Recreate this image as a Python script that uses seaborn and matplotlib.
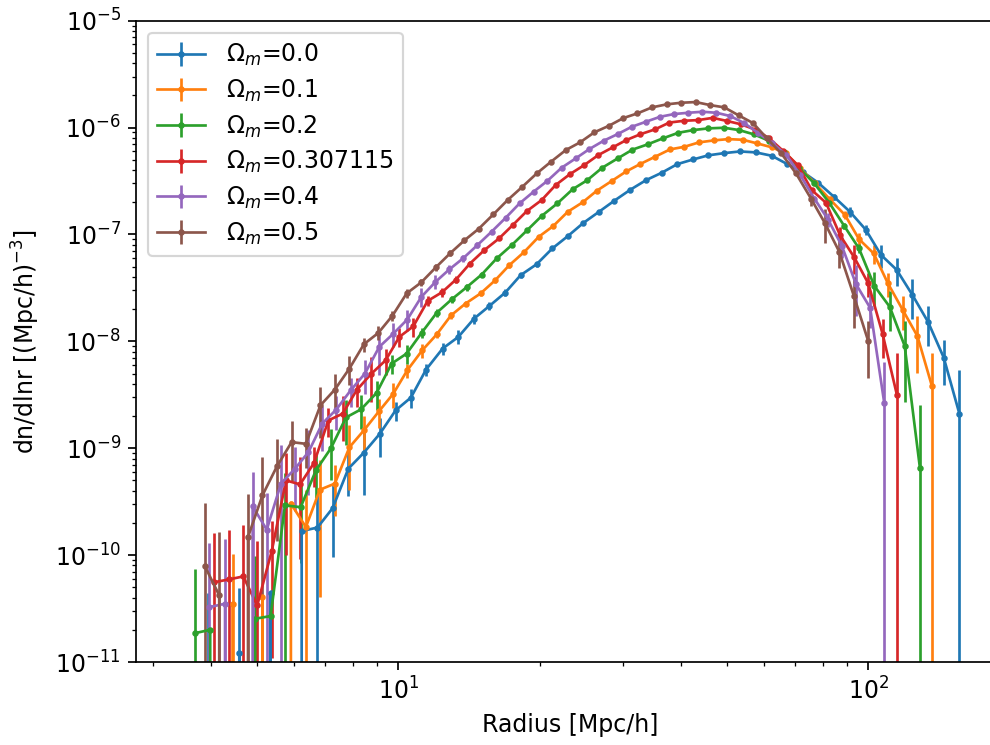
import numpy as np
import matplotlib
matplotlib.use("Agg")
import matplotlib.pyplot as plt
import seaborn as sns

labels = [r"$\Omega_m$=0.0", r"$\Omega_m$=0.1", r"$\Omega_m$=0.2",
          r"$\Omega_m$=0.307115", r"$\Omega_m$=0.4", r"$\Omega_m$=0.5"]

# ---- Omega_m = 0.0 ----
x0 = [3.94, 4.26, 4.59, 4.95, 5.35, 5.77, 6.23, 6.73, 7.25, 7.83, 8.45, 9.14, 9.87,
      10.64, 11.46, 12.43, 13.42, 14.49, 15.62, 16.89, 18.21, 19.70, 21.27, 22.94,
      24.75, 26.73, 28.82, 31.16, 33.65, 36.35, 39.23, 42.44, 45.67, 49.39, 53.33,
      57.61, 62.31, 67.26, 72.53, 78.27, 84.53, 91.41, 98.74, 106.4, 114.9, 124.1,
      134.0, 144.7, 156.2]
y0 = [2e-12, 0, 1.22e-11, 0, 4.38e-11, 0, 1.68e-10, 1.81e-10, 2.75e-10, 6.44e-10,
      9.1e-10, 1.37e-9, 2.26e-9, 2.98e-9, 5.45e-9, 8.57e-9, 1.10e-8, 1.63e-8, 2.14e-8,
      2.86e-8, 4.16e-8, 5.27e-8, 7.40e-8, 9.64e-8, 1.28e-7, 1.63e-7, 2.07e-7, 2.62e-7,
      3.22e-7, 3.78e-7, 4.55e-7, 5.04e-7, 5.50e-7, 5.77e-7, 5.98e-7, 5.86e-7, 5.45e-7,
      4.55e-7, 3.85e-7, 3.04e-7, 2.25e-7, 1.63e-7, 1.11e-7, 6.44e-8, 4.67e-8, 2.72e-8,
      1.52e-8, 7.05e-9, 2.11e-9]
r0 = [20, 0, 3.0, 0, 0.05, 0, 0.05, 1.0, 0.65, 0.45, 0.6, 0.4, 0.2, 0.2, 0.13, 0.13,
      0.15, 0.1, 0.08, 0.08, 0.05, 0.05, 0.03, 0.03, 0.02, 0.02, 0.02, 0.02, 0.02, 0.02,
      0.02, 0.02, 0.02, 0.02, 0.02, 0.02, 0.02, 0.02, 0.03, 0.04, 0.06, 0.11, 0.11, 0.25,
      0.3, 0.4, 0.4, 0.45, 1.58]

# ---- Omega_m = 0.1 ----
x1 = [4.44, 4.79, 5.14, 5.52, 5.91, 6.36, 6.81, 7.33, 7.87, 8.45, 9.10, 9.76, 10.45,
      11.25, 12.07, 12.95, 13.91, 14.97, 16.08, 17.23, 18.54, 19.90, 21.37, 22.94,
      24.68, 26.43, 28.44, 30.55, 32.68, 35.17, 37.86, 40.60, 43.63, 46.96, 50.37,
      54.06, 58.05, 62.39, 66.84, 71.67, 77.02, 82.87, 89.21, 95.55, 102.7, 110.1,
      118.5, 127.2, 136.6]
y1 = [3.51e-11, 0, 4.05e-11, 0, 3.03e-10, 1.83e-10, 4.09e-10, 4.67e-10, 1.02e-9,
      1.47e-9, 2.22e-9, 3.24e-9, 5.36e-9, 8.26e-9, 1.16e-8, 1.75e-8, 2.26e-8, 2.81e-8,
      3.73e-8, 5.16e-8, 6.87e-8, 9.51e-8, 1.20e-7, 1.63e-7, 2.00e-7, 2.56e-7, 3.16e-7,
      3.89e-7, 4.55e-7, 5.33e-7, 6.25e-7, 6.61e-7, 7.27e-7, 7.59e-7, 7.80e-7, 7.69e-7,
      7.11e-7, 6.53e-7, 5.73e-7, 4.15e-7, 3.00e-7, 2.13e-7, 1.52e-7, 9.04e-8, 6.64e-8,
      3.48e-8, 1.95e-8, 1.12e-8, 3.80e-9]
r1 = [1.94, 0, 0.05, 0, 0.05, 1.2, 0.9, 0.5, 0.6, 0.35, 0.3, 0.27, 0.15, 0.15, 0.08,
      0.08, 0.06, 0.06, 0.05, 0.05, 0.04, 0.04, 0.03, 0.03, 0.02, 0.02, 0.02, 0.02, 0.02,
      0.02, 0.02, 0.02, 0.02, 0.02, 0.02, 0.02, 0.02, 0.02, 0.02, 0.03, 0.04, 0.05, 0.08,
      0.15, 0.2, 0.25, 0.35, 0.55, 1.03]

# ---- Omega_m = 0.2 ----
x2 = [3.69, 3.98, 4.28, 4.61, 4.96, 5.35, 5.74, 6.20, 6.68, 7.19, 7.74, 8.33, 8.99,
      9.68, 10.42, 11.21, 12.07, 12.99, 13.98, 15.05, 16.19, 17.43, 18.82, 20.19,
      21.79, 23.50, 25.24, 27.16, 29.30, 31.50, 33.94, 36.53, 39.42, 42.44, 45.67,
      49.32, 53.07, 57.12, 61.49, 66.16, 71.31, 76.77, 82.60, 88.89, 95.55, 103.0,
      111.1, 119.5, 128.8]
y2 = [1.86e-11, 2.00e-11, 0, 0, 2.54e-11, 2.69e-11, 2.92e-10, 2.81e-10, 6.21e-10,
      1.0e-9, 1.94e-9, 2.31e-9, 3.29e-9, 6.19e-9, 7.69e-9, 1.20e-8, 1.85e-8, 2.47e-8,
      3.21e-8, 4.22e-8, 5.96e-8, 7.94e-8, 1.10e-7, 1.49e-7, 1.95e-7, 2.65e-7, 3.22e-7,
      4.21e-7, 5.15e-7, 6.22e-7, 6.97e-7, 7.92e-7, 8.94e-7, 9.48e-7, 9.83e-7, 9.96e-7,
      9.48e-7, 8.64e-7, 7.52e-7, 5.90e-7, 4.18e-7, 3.00e-7, 1.98e-7, 1.20e-7, 7.40e-8,
      3.30e-8, 2.10e-8, 9.06e-9, 6.49e-10]
r2 = [3.0, 0.05, 0, 0, 2.9, 0.05, 1.0, 0.7, 0.45, 0.5, 0.45, 0.35, 0.3, 0.2, 0.2, 0.1,
      0.08, 0.07, 0.07, 0.05, 0.05, 0.04, 0.04, 0.03, 0.03, 0.02, 0.02, 0.02, 0.02, 0.02,
      0.02, 0.02, 0.02, 0.02, 0.02, 0.02, 0.02, 0.02, 0.02, 0.02, 0.03, 0.04, 0.05, 0.06,
      0.1, 0.35, 0.4, 0.7, 2.9]

# ---- Omega_m = 0.307115 ----
x3 = [4.06, 4.36, 4.68, 5.01, 5.38, 5.77, 6.18, 6.62, 7.10, 7.62, 8.15, 8.74, 9.40,
      10.05, 10.76, 11.55, 12.39, 13.27, 14.21, 15.24, 16.38, 17.51, 18.76, 20.19,
      21.62, 23.19, 24.87, 26.64, 28.59, 30.55, 32.73, 35.17, 37.73, 40.54, 43.47,
      46.66, 49.97, 53.58, 57.50, 61.56, 65.94, 70.76, 75.80, 81.28, 87.07, 93.38,
      100.0, 107.3, 115.1]
y3 = [5.58e-11, 5.92e-11, 6.32e-11, 3.38e-11, 1.09e-10, 5.0e-10, 4.59e-10, 7.30e-10,
      1.82e-9, 2.11e-9, 3.48e-9, 4.92e-9, 6.65e-9, 1.10e-8, 1.38e-8, 2.39e-8, 2.88e-8,
      3.79e-8, 5.35e-8, 7.13e-8, 9.17e-8, 1.22e-7, 1.65e-7, 2.10e-7, 2.90e-7, 3.67e-7,
      4.46e-7, 5.53e-7, 6.53e-7, 7.64e-7, 8.66e-7, 9.62e-7, 1.114e-6, 1.158e-6,
      1.175e-6, 1.233e-6, 1.155e-6, 1.074e-6, 9.58e-7, 7.92e-7, 6.03e-7, 4.46e-7,
      2.60e-7, 1.98e-7, 9.85e-8, 6.09e-8, 3.48e-8, 1.165e-8, 3.13e-9]
r3 = [1.9, 1.9, 2.0, 3.0, 0.9, 0.8, 0.8, 0.4, 0.3, 0.45, 0.3, 0.45, 0.27, 0.2, 0.2,
      0.1, 0.1, 0.07, 0.05, 0.05, 0.04, 0.04, 0.03, 0.03, 0.02, 0.02, 0.02, 0.02, 0.02,
      0.02, 0.02, 0.02, 0.02, 0.02, 0.02, 0.02, 0.02, 0.02, 0.02, 0.02, 0.03, 0.03, 0.05,
      0.06, 0.2, 0.3, 0.25, 0.4, 1.5]

# ---- Omega_m = 0.4 ----
x4 = [3.96, 4.28, 4.57, 4.90, 5.25, 5.63, 6.03, 6.44, 6.89, 7.38, 7.92, 8.49, 9.11,
      9.76, 10.45, 11.20, 12.00, 12.84, 13.75, 14.73, 15.79, 16.92, 18.11, 19.40,
      20.77, 22.26, 23.85, 25.51, 27.33, 29.29, 31.38, 33.62, 36.06, 38.60, 41.39,
      44.38, 47.53, 50.87, 54.45, 58.34, 62.52, 66.96, 71.67, 76.77, 82.11, 87.90,
      94.15, 100.9, 108.1]
y4 = [3.26e-11, 3.51e-11, 0, 2.86e-10, 1.73e-10, 4.67e-10, 6.44e-10, 9.2e-10, 1.70e-9,
      2.30e-9, 3.48e-9, 4.99e-9, 8.87e-9, 1.18e-8, 1.60e-8, 2.61e-8, 3.60e-8, 4.71e-8,
      6.00e-8, 7.94e-8, 1.06e-7, 1.43e-7, 1.95e-7, 2.51e-7, 3.18e-7, 4.21e-7, 5.15e-7,
      6.30e-7, 7.52e-7, 8.69e-7, 1.017e-6, 1.133e-6, 1.262e-6, 1.338e-6, 1.376e-6,
      1.406e-6, 1.376e-6, 1.281e-6, 1.102e-6, 8.88e-7, 7.16e-7, 5.53e-7, 3.59e-7,
      2.17e-7, 1.38e-7, 7.77e-8, 3.43e-8, 2.06e-8, 2.67e-9]
r4 = [3.0, 3.0, 0, 1.1, 1.2, 1.3, 0.6, 0.6, 0.45, 0.35, 0.3, 0.35, 0.45, 0.25, 0.22,
      0.2, 0.15, 0.1, 0.08, 0.06, 0.05, 0.04, 0.04, 0.03, 0.03, 0.02, 0.02, 0.02, 0.02,
      0.02, 0.02, 0.02, 0.02, 0.02, 0.02, 0.02, 0.02, 0.02, 0.02, 0.02, 0.02, 0.03, 0.04,
      0.06, 0.15, 0.23, 0.5, 0.35, 1.4]

# ---- Omega_m = 0.5 ----
x5 = [3.88, 4.16, 4.47, 4.79, 5.14, 5.52, 5.93, 6.36, 6.83, 7.33, 7.87, 8.45, 9.07,
      9.72, 10.42, 11.19, 12.02, 12.90, 13.82, 14.83, 15.93, 17.09, 18.36, 19.70,
      21.13, 22.72, 24.36, 26.12, 28.07, 30.11, 32.28, 34.66, 37.24, 39.95, 42.94,
      46.04, 49.39, 53.00, 56.85, 60.88, 65.30, 70.19, 75.51, 80.90, 86.77, 93.24,
      100.0]
y5 = [7.83e-11, 4.2e-11, 0, 1.48e-10, 3.62e-10, 6.78e-10, 1.14e-9, 1.10e-9, 2.52e-9,
      3.54e-9, 5.56e-9, 9.40e-9, 1.20e-8, 1.74e-8, 2.81e-8, 3.56e-8, 4.92e-8, 6.68e-8,
      8.79e-8, 1.13e-7, 1.54e-7, 2.10e-7, 2.79e-7, 3.72e-7, 4.79e-7, 6.16e-7, 7.27e-7,
      9.02e-7, 1.04e-6, 1.227e-6, 1.358e-6, 1.546e-6, 1.649e-6, 1.707e-6, 1.733e-6,
      1.624e-6, 1.546e-6, 1.30e-6, 1.102e-6, 7.92e-7, 5.73e-7, 3.72e-7, 2.17e-7,
      1.27e-7, 6.87e-8, 2.64e-8, 1.0e-8]
r5 = [2.9, 2.9, 0, 1.5, 1.3, 0.8, 0.57, 0.4, 0.5, 0.4, 0.3, 0.15, 0.15, 0.1, 0.1, 0.08,
      0.07, 0.06, 0.05, 0.04, 0.04, 0.03, 0.03, 0.02, 0.02, 0.02, 0.02, 0.02, 0.02, 0.02,
      0.02, 0.02, 0.02, 0.02, 0.02, 0.02, 0.02, 0.02, 0.02, 0.03, 0.03, 0.04, 0.15, 0.35,
      0.3, 0.5, 0.55]

series = [(x0, y0, r0), (x1, y1, r1), (x2, y2, r2),
          (x3, y3, r3), (x4, y4, r4), (x5, y5, r5)]

palette = sns.color_palette("tab10", 6)

plt.rcParams["font.size"] = 11
plt.rcParams["lines.linewidth"] = 1.25

fig = plt.figure(figsize=(990 / 155, 745 / 155), dpi=155)
ax = fig.add_axes([136 / 990, 1 - 662 / 745, (1004 - 136) / 990, (662 - 20.7) / 745])

for (xs, ys, rs), lab, col in zip(series, labels, palette):
    xs = np.asarray(xs, float)
    ys = np.asarray(ys, float)
    err = np.asarray(rs, float) * ys
    if lab.endswith("0.0"):
        err[0] = 4.2e-11
    ax.errorbar(xs, ys, yerr=err, fmt=".-", color=col, label=lab,
                markersize=4, lw=1.25, elinewidth=1.25)

ax.set_xscale("log")
ax.set_yscale("log")
ax.set_xlim(2.767, 194.4)
ax.set_ylim(1e-11, 1e-5)
ax.set_xlabel("Radius [Mpc/h]")
ax.set_ylabel(r"dn/dlnr [(Mpc/h)$^{-3}$]", labelpad=6)
ax.legend(loc="upper left", labelspacing=0.4, handletextpad=0.9)

fig.savefig("out.png", dpi=155)
